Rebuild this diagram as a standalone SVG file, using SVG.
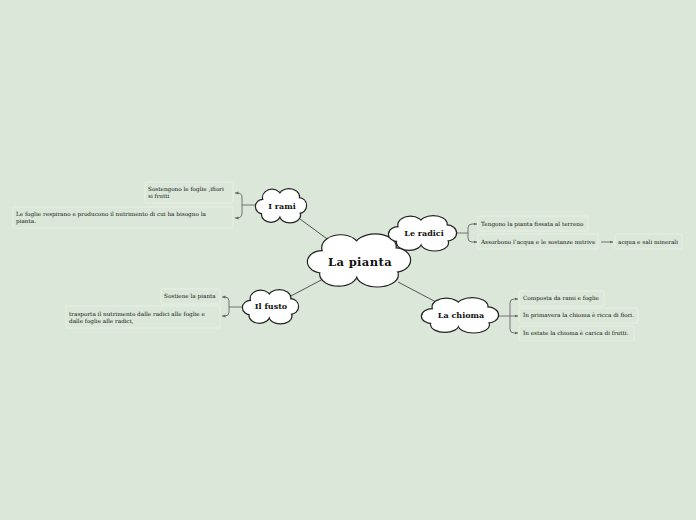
<svg xmlns="http://www.w3.org/2000/svg" xmlns:xlink="http://www.w3.org/1999/xlink" width="696" height="520" viewBox="0 0 696 520">
<style>
.bg{fill:#dbe7d8}
.cl ellipse{vector-effect:non-scaling-stroke}
.co{fill:none;stroke:#222;stroke-width:2.4}
.cf{fill:#ffffff;stroke:none}
.box{fill:#dbe7d8;stroke:#e4eee0;stroke-width:1.4}
.t{font-family:"DejaVu Serif","Liberation Serif",serif;font-size:5.7px;fill:#111}
.lbl{font-family:"DejaVu Serif","Liberation Serif",serif;font-size:8px;font-weight:bold;fill:#111;text-anchor:middle;dominant-baseline:central}
.main{font-size:11.5px;letter-spacing:0.4px}
.ln{fill:none;stroke:#444;stroke-width:0.9}
.br{fill:none;stroke:#666;stroke-width:0.9}
</style>
<defs>
<g id="cloud" class="cl">
<ellipse cx="0" cy="0" rx="38" ry="18"/>
<ellipse cx="-18" cy="-14" rx="18" ry="14"/>
<ellipse cx="16" cy="-15" rx="20" ry="14"/>
<ellipse cx="-36" cy="2" rx="14" ry="12"/>
<ellipse cx="36" cy="0" rx="14" ry="13"/>
<ellipse cx="-20" cy="16" rx="18" ry="13"/>
<ellipse cx="18" cy="17" rx="20" ry="13"/>
</g>
<marker id="ah" markerWidth="4" markerHeight="4" refX="3.5" refY="2" orient="auto" markerUnits="userSpaceOnUse">
<path d="M0,0.4 L3.5,2 L0,3.6 Z" fill="#666"/>
</marker>
</defs>
<rect class="bg" x="0" y="0" width="696" height="520"/>

<g id="connectors">
<path class="ln" d="M330,241 L300,219"/>
<path class="ln" d="M392,248 L402,243"/>
<path class="ln" d="M325,278 L289,297"/>
<path class="ln" d="M398,282 L438,303"/>
<path class="br" d="M257,205 L242,205"/>
<path class="br" d="M242,197 L242,213"/>
<path class="br" d="M242,197 Q242,193 237,193 L235,193" marker-end="url(#ah)"/>
<path class="br" d="M242,213 Q242,218 237,218 L235,218" marker-end="url(#ah)"/>
<path class="br" d="M455,233 L468,233"/>
<path class="br" d="M468,228 L468,238"/>
<path class="br" d="M468,228 Q468,224 472,224 L477,224" marker-end="url(#ah)"/>
<path class="br" d="M468,238 Q468,242 472,242 L477,242" marker-end="url(#ah)"/>
<path class="br" d="M601,242 L613,242" marker-end="url(#ah)"/>
<path class="br" d="M244,307 L229,307"/>
<path class="br" d="M229,301 L229,312"/>
<path class="br" d="M229,301 Q229,297 225,297 L222,297" marker-end="url(#ah)"/>
<path class="br" d="M229,312 Q229,316 225,316 L222,316" marker-end="url(#ah)"/>
<path class="br" d="M497,316 L510,316"/>
<path class="br" d="M510,303 L510,329"/>
<path class="br" d="M510,303 Q510,299 514,299 L518,299" marker-end="url(#ah)"/>
<path class="br" d="M510,316 L518,316" marker-end="url(#ah)"/>
<path class="br" d="M510,329 Q510,333 514,333 L518,333" marker-end="url(#ah)"/>
</g>

<g id="n-main">
<use xlink:href="#cloud" class="co" transform="translate(359,260) scale(1.02,0.88)"/>
<use xlink:href="#cloud" class="cf" transform="translate(359,260) scale(1.02,0.88)"/>
<text class="lbl main" x="360" y="262">La pianta</text>
</g>

<g id="n-rami">
<use xlink:href="#cloud" class="co" transform="translate(281,205.5) scale(0.5,0.56)"/>
<use xlink:href="#cloud" class="cf" transform="translate(281,205.5) scale(0.5,0.56)"/>
<text class="lbl" x="282" y="206">I rami</text>
</g>

<g id="n-radici">
<use xlink:href="#cloud" class="co" transform="translate(422.5,233) scale(0.67,0.58)"/>
<use xlink:href="#cloud" class="cf" transform="translate(422.5,233) scale(0.67,0.58)"/>
<text class="lbl" x="424" y="233">Le radici</text>
</g>

<g id="n-fusto">
<use xlink:href="#cloud" class="co" transform="translate(270.5,306.5) scale(0.55,0.56)"/>
<use xlink:href="#cloud" class="cf" transform="translate(270.5,306.5) scale(0.55,0.56)"/>
<text class="lbl" x="271" y="306">Il fusto</text>
</g>

<g id="n-chioma">
<use xlink:href="#cloud" class="co" transform="translate(460,315) scale(0.76,0.58)"/>
<use xlink:href="#cloud" class="cf" transform="translate(460,315) scale(0.76,0.58)"/>
<text class="lbl" x="461" y="315">La chioma</text>
</g>

<g id="b-rami1">
<rect class="box" x="145" y="182" width="88" height="21" rx="2"/>
<text class="t" x="148" y="191">Sostengono le foglie ,ifiori</text>
<text class="t" x="148" y="198">si frutti</text>
</g>
<g id="b-rami2">
<rect class="box" x="13" y="207" width="220" height="21" rx="2"/>
<text class="t" x="16" y="216">Le foglie respirano e producono il nutrimento di cui ha bisogno la</text>
<text class="t" x="16" y="223">pianta.</text>
</g>

<g id="b-radici1">
<rect class="box" x="478" y="216" width="110" height="15" rx="2"/>
<text class="t" x="481" y="225.5">Tengono la pianta fissata al terreno</text>
</g>
<g id="b-radici2">
<rect class="box" x="478" y="234" width="120" height="15" rx="2"/>
<text class="t" x="481" y="243.5">Assorbono l’acqua e le sostanze nutrive</text>
</g>
<g id="b-radici3">
<rect class="box" x="615" y="234" width="67" height="15" rx="2"/>
<text class="t" x="618" y="243.5">acqua e sali minerali</text>
</g>

<g id="b-fusto1">
<rect class="box" x="161" y="289" width="59" height="15" rx="2"/>
<text class="t" x="164" y="298">Sostiene la pianta</text>
</g>
<g id="b-fusto2">
<rect class="box" x="66" y="306" width="154" height="22" rx="2"/>
<text class="t" x="69" y="315.5">trasporta il nutrimento dalle radici alle foglie e</text>
<text class="t" x="69" y="322.5">dalle foglie alle radici,</text>
</g>

<g id="b-chioma1">
<rect class="box" x="519" y="291" width="85" height="15" rx="2"/>
<text class="t" x="523" y="300">Composta  da rami e foglie</text>
</g>
<g id="b-chioma2">
<rect class="box" x="519" y="308" width="119" height="15" rx="2"/>
<text class="t" x="523" y="317">In primavera la chioma è ricca di fiori.</text>
</g>
<g id="b-chioma3">
<rect class="box" x="519" y="326" width="115" height="15" rx="2"/>
<text class="t" x="523" y="335">In estate  la chioma è carica di frutti.</text>
</g>
</svg>
